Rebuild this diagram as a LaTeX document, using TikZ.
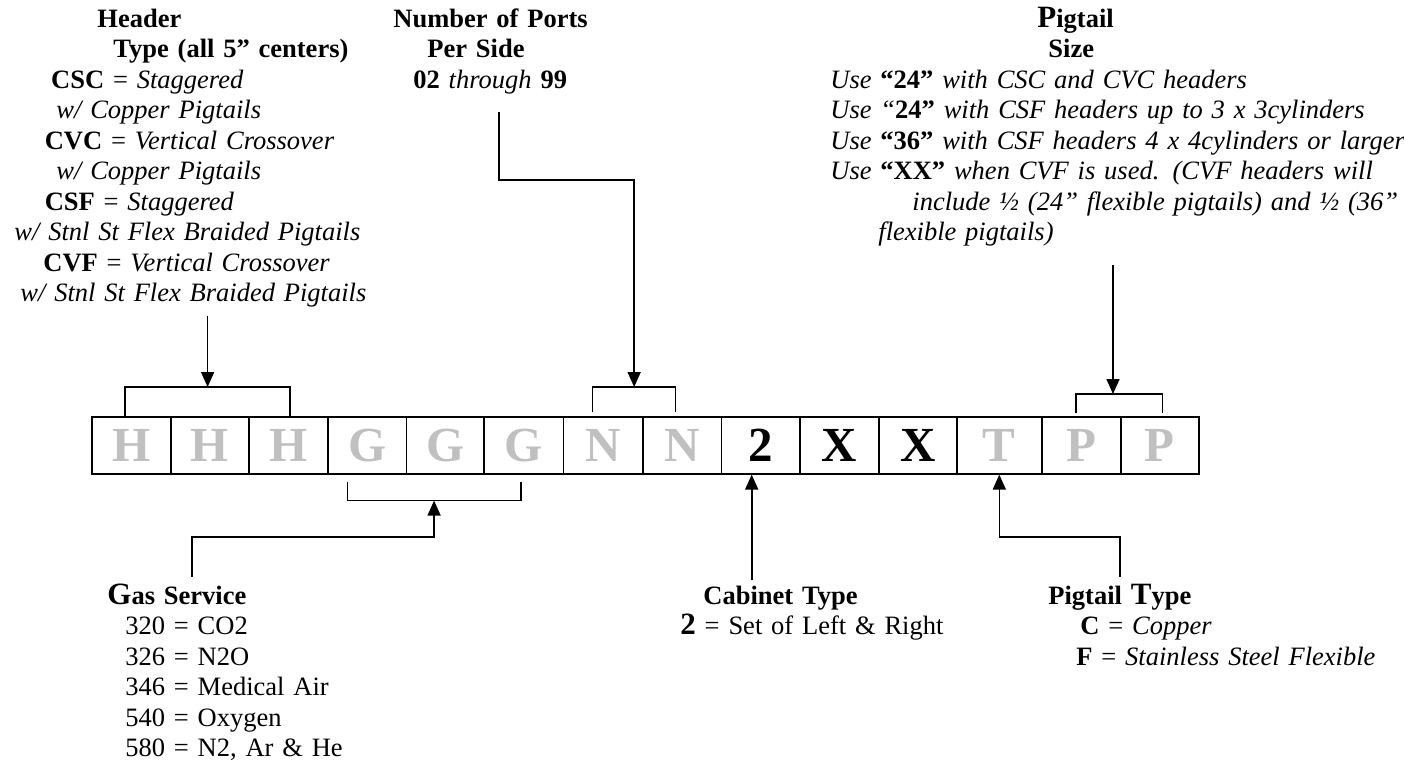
\documentclass[tikz,border=0pt]{standalone}
\usepackage{fontspec}
\setmainfont{Liberation Serif}
\usetikzlibrary{arrows.meta,calc}
\definecolor{lettergray}{RGB}{192,192,192}
\newcommand{\capinit}[1]{{\fontsize{15.5}{15.25}\selectfont #1}}

\begin{document}
\begin{tikzpicture}[x=0.5pt,y=-0.5pt,
  every node/.style={inner sep=0pt},
  txt/.style={anchor=base west,align=left,font=\fontsize{13.25}{15.25}\selectfont},
  cell/.style={draw,line width=0.8pt,anchor=north west,minimum height=28.5pt,
    font=\fontsize{24.5}{26}\selectfont\bfseries},
  brk/.style={line width=0.7pt},
  arr/.style={line width=0.8pt,-{Triangle[length=7.5pt,width=6.5pt]}}]
\useasboundingbox (0,0) rectangle (1404,767);

% the row of code boxes
\foreach \i/\l/\w/\c/\t in {1/91/79/lettergray/H, 2/170/78/lettergray/H, 3/248/79/lettergray/H,
  4/327/78.7/lettergray/G, 5/405.7/77.6/lettergray/G, 6/483.3/79.4/lettergray/G,
  7/562.7/79.3/lettergray/N, 8/642/78.7/lettergray/N, 9/720.7/78.6/black/2,
  10/799.3/78.7/black/X, 11/878/78/black/X, 12/956/85/lettergray/T,
  13/1041/79/lettergray/P, 14/1120/78.3/lettergray/P}
  \node[cell,minimum width=\w*0.5pt,text=\c] (b\i) at (\l,416) {\t};

% texts above
\node[txt,text width=200pt] (hdr) at (14,27) {%
\hspace*{41.5pt}\textbf{Header}\\
\hspace*{49.5pt}\textbf{Type (all 5” centers)}\\
\hspace*{18.4pt}\textbf{CSC} = \textit{Staggered}\\
\hspace*{21pt}\textit{w/ Copper Pigtails}\\
\hspace*{15.2pt}\textbf{CVC} = \textit{Vertical Crossover}\\
\hspace*{21pt}\textit{w/ Copper Pigtails}\\
\hspace*{15.2pt}\textbf{CSF} = \textit{Staggered}\\
\textit{w/ Stnl St Flex Braided Pigtails}\\
\hspace*{14.5pt}\textbf{CVF} = \textit{Vertical Crossover}\\
\hspace*{3pt}\textit{w/ Stnl St Flex Braided Pigtails}};

\node[txt,text width=120pt] (ports) at (393,27) {%
\textbf{Number of Ports}\\
\hspace*{17pt}\textbf{Per Side}\\
\hspace*{10pt}\textbf{02} \textit{through} \textbf{99}};

\node[txt,text width=300pt] (psize) at (830,27) {%
\hspace*{103.5pt}\textbf{\capinit{P}igtail}\\
\hspace*{109pt}\textbf{Size}\\
\textit{Use} \textbf{“24”} \textit{with CSC and CVC headers}\\
\textit{Use “}\textbf{24”} \textit{with CSF headers up to 3 x 3cylinders}\\
\textit{Use} \textbf{“36”} \textit{with CSF headers 4 x 4cylinders or larger}\\
\textit{Use} \textbf{“XX”} \textit{when CVF is used. (CVF headers will}\\
\hspace*{41pt}\textit{include ½ (24” flexible pigtails) and ½ (36”}\\
\hspace*{24pt}\textit{flexible pigtails)}};

% texts below
\node[txt,text width=120pt] (gas) at (107,604) {%
\textbf{\capinit{G}as Service}\\
\hspace*{9pt}320 = CO2\\
\hspace*{9pt}326 = N2O\\
\hspace*{9pt}346 = Medical Air\\
\hspace*{9pt}540 = Oxygen\\
\hspace*{9pt}580 = N2, Ar \& He};

\node[txt,text width=150pt] (cab) at (680,604) {%
\hspace*{11.5pt}\textbf{Cabinet Type}\\
\textbf{\capinit{2}} = Set of Left \& Right};

\node[txt,text width=170pt] (ptype) at (1048,604) {%
\textbf{Pigtail \capinit{T}ype}\\
\hspace*{16pt}\textbf{C} = \textit{Copper}\\
\hspace*{14pt}\textbf{F} = \textit{Stainless Steel Flexible}};

% brackets
\coordinate (hmid) at ($(b1.north)!0.5!(b3.north)+(-2.2,-29)$);
\coordinate (nmid) at ($(b7.north)!0.5!(b8.north)+(-8.5,-29)$);
\coordinate (pmid) at ($(b13.north)!0.5!(b14.north)+(-1.5,-22)$);
\coordinate (gmid) at ($(b4.south)!0.5!(b6.south)+(-11.4,26)$);
\draw[brk] ([xshift=-3.1pt]b1.north) |- (hmid) -| ([xshift=0.9pt]b3.north);
\draw[brk] ([xshift=-5.3pt,yshift=2pt]b7.north) |- (nmid) -| ([xshift=-3.2pt,yshift=2pt]b8.north);
\draw[brk] ([xshift=-2.75pt,yshift=1.5pt]b13.north) |- (pmid) -| ([xshift=1.25pt,yshift=1.5pt]b14.north);
\draw[brk] ([xshift=-9.8pt,yshift=-3.5pt]b4.south) |- (gmid) -| ([xshift=-1.5pt,yshift=-3.5pt]b6.south);

% connectors
\coordinate (portsfoot) at (499,112);
\coordinate (psfoot) at (1113,265);
\coordinate (gasfoot) at (191.7,577);
\coordinate (cabfoot) at (751.7,580);
\coordinate (tfoot) at (1120,577);
\draw[arr] ([yshift=-4pt]hdr.south -| hmid) -- (hmid);
\draw[arr] (portsfoot) -- ++(0,68) -| (nmid);
\draw[arr] (psfoot) -- (psfoot |- pmid);
\draw[arr] (gasfoot) -- ++(0,-40) -| (gmid);
\draw[arr] (cabfoot) -- (cabfoot |- b9.south);
\draw[arr] (tfoot) -- ++(0,-40) -| (b12.south);

\end{tikzpicture}
\end{document}
